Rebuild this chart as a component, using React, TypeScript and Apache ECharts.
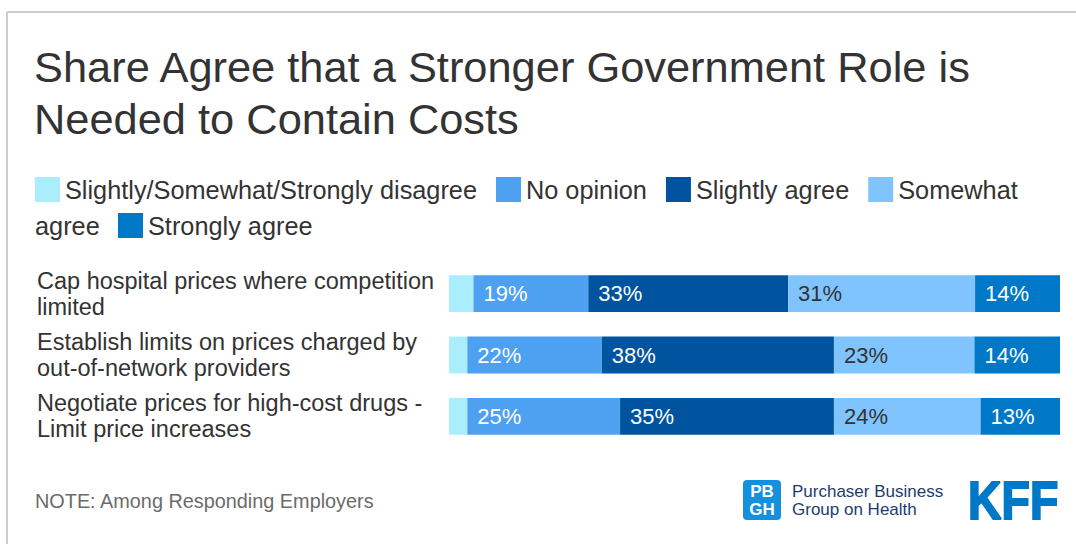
import React, { useEffect, useRef } from "react";
import * as echarts from "echarts";

const categories = [
  "Cap hospital prices where competition\nlimited",
  "Establish limits on prices charged by\nout-of-network providers",
  "Negotiate prices for high-cost drugs -\nLimit price increases",
];
const seriesNames = [
  "Slightly/Somewhat/Strongly disagree",
  "No opinion",
  "Slightly agree",
  "Somewhat agree",
  "Strongly agree",
];
const disagree = [4.0, 3.0, 3.0];
const noOpinion = [18.8, 22.0, 25.0];
const slightlyAgree = [32.7, 38.0, 35.0];
const somewhatAgree = [30.6, 23.0, 24.0];
const stronglyAgree = [13.9, 14.0, 13.0];
const colors = ["#aaeefe", "#4ea0f0", "#00549f", "#80c4ff", "#0078c8"];
const labelColors = ["#333333", "#ffffff", "#ffffff", "#333333", "#ffffff"];

const FONT = '"Liberation Sans", Arial, sans-serif';
const LEGEND_FS = 25.3;

export default function App() {
  const ref = useRef<HTMLDivElement>(null);
  useEffect(() => {
    if (!ref.current) return;
    const chart = echarts.init(ref.current, undefined, { renderer: "svg" });
    const values = [disagree, noOpinion, slightlyAgree, somewhatAgree, stronglyAgree];
    const series = values.map((data, i) => ({
      name: seriesNames[i],
      type: "bar",
      stack: "total",
      data,
      barCategoryGap: "40%",
      itemStyle: { color: colors[i] },
      label: {
        show: i > 0,
        position: "insideLeft",
        distance: 10,
        formatter: (p: any) => Math.round(p.value) + "%",
        color: labelColors[i],
        fontSize: 22,
        fontFamily: FONT,
      },
    }));
    chart.setOption({
      animation: false,
      backgroundColor: "#ffffff",
      textStyle: { fontFamily: FONT },
      title: {
        text: "Share Agree that a Stronger Government Role is\nNeeded to Contain Costs",
        left: 34,
        top: 41,
        padding: 0,
        textStyle: {
          fontSize: 43.4,
          lineHeight: 52,
          fontWeight: "normal",
          color: "#333333",
          fontFamily: FONT,
        },
      },
      legend: [
        {
          data: seriesNames.slice(0, 4),
          left: 35,
          top: 177,
          padding: 0,
          itemWidth: 25,
          itemHeight: 25,
          itemGap: 19,
          icon: "rect",
          selectedMode: false,
          formatter: (n: string) => (n === "Somewhat agree" ? "Somewhat" : n),
          textStyle: { fontSize: LEGEND_FS, color: "#333333", fontFamily: FONT },
        },
        {
          data: seriesNames.slice(4),
          left: 118,
          top: 213,
          padding: 0,
          itemWidth: 25,
          itemHeight: 25,
          icon: "rect",
          selectedMode: false,
          textStyle: { fontSize: LEGEND_FS, color: "#333333", fontFamily: FONT },
        },
      ],
      grid: { left: 449, right: 16, top: 263, height: 184 },
      xAxis: { type: "value", min: 0, max: 100, show: false },
      yAxis: {
        type: "category",
        data: categories,
        inverse: true,
        axisLine: { show: false },
        axisTick: { show: false },
        axisLabel: {
          align: "left",
          margin: 412,
          fontSize: 23.5,
          lineHeight: 26,
          color: "#333333",
          fontFamily: FONT,
        },
      },
      series,
      graphic: [
        { type: "line", shape: { x1: 7, y1: 12, x2: 1076, y2: 12 }, style: { stroke: "#cccccc", lineWidth: 2 } },
        { type: "line", shape: { x1: 7, y1: 12, x2: 7, y2: 544 }, style: { stroke: "#cccccc", lineWidth: 2 } },
        {
          type: "text",
          x: 35,
          y: 226,
          style: { text: "agree", fontSize: LEGEND_FS, fill: "#333333", fontFamily: FONT, verticalAlign: "middle" },
        },
        {
          type: "text",
          x: 35,
          y: 501,
          style: { text: "NOTE: Among Responding Employers", fontSize: 19.85, fill: "#6b6b6b", fontFamily: FONT, verticalAlign: "middle" },
        },
        { type: "rect", shape: { x: 743, y: 480, width: 38, height: 40, r: 4 }, style: { fill: "#1590dc" } },
        {
          type: "text",
          x: 762,
          y: 500,
          style: {
            text: "PB\nGH",
            fontSize: 17,
            lineHeight: 18,
            fontWeight: "bold",
            fill: "#ffffff",
            fontFamily: FONT,
            align: "center",
            verticalAlign: "middle",
          },
        },
        {
          type: "text",
          x: 792,
          y: 500.5,
          style: {
            text: "Purchaser Business\nGroup on Health",
            fontSize: 17,
            lineHeight: 18,
            fill: "#1d3c6e",
            fontFamily: FONT,
            verticalAlign: "middle",
          },
        },
        {
          type: "text",
          x: 968,
          y: 500,
          scaleX: 0.86,
          style: {
            text: "KFF",
            fontSize: 54,
            fontWeight: "bold",
            fill: "#0078c8",
            stroke: "#0078c8",
            lineWidth: 2,
            fontFamily: FONT,
            verticalAlign: "middle",
          },
        },
      ],
    });
    return () => chart.dispose();
  }, []);
  return (
    <div
      ref={ref}
      style={{ position: "absolute", left: 0, top: 0, width: 1076, height: 544, background: "#fff" }}
    />
  );
}
